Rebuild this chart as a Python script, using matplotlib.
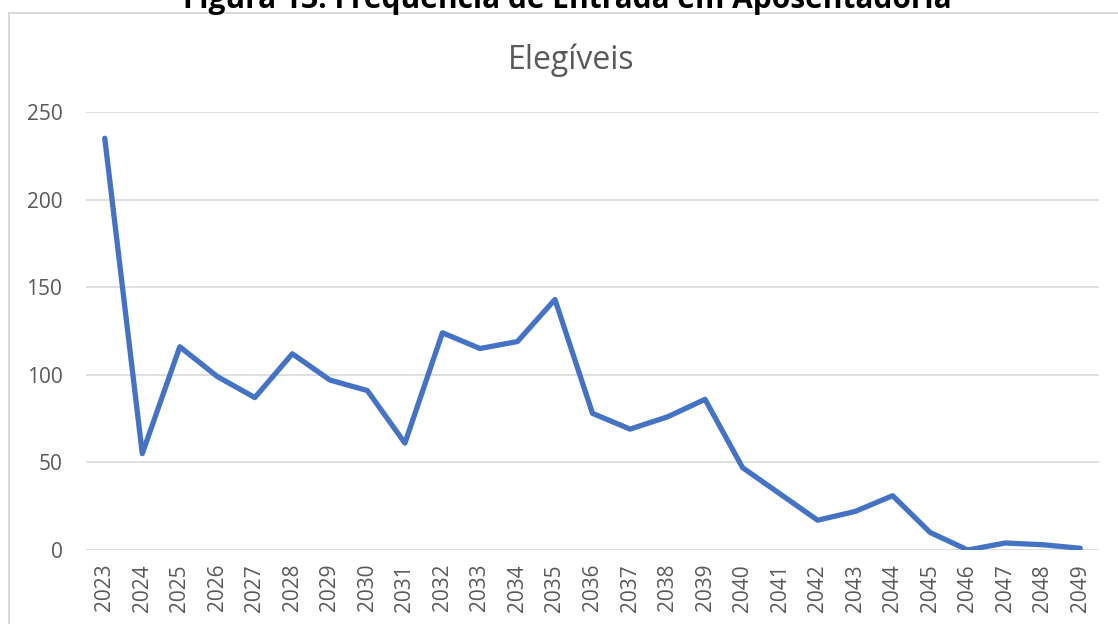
import matplotlib.pyplot as plt
from matplotlib.patches import Rectangle

# dados
anos = [str(a) for a in range(2023, 2050)]
elegiveis = [235, 55, 116, 99, 87, 112, 97, 91, 61, 124, 115, 119, 143,
             78, 69, 76, 86, 47, 32, 17, 22, 31, 10, 0, 4, 3, 1]
y_ticks = [0, 50, 100, 150, 200, 250]

plt.rcParams['font.family'] = ['Open Sans', 'DejaVu Sans']

fig = plt.figure(figsize=(11.18, 6.24), dpi=100)
W, H = 1118, 624

# moldura do grafico (estilo Excel)
fig.patches.append(Rectangle((9 / W, -0.05), 1.2, 1 - 13 / H + 0.05,
                             transform=fig.transFigure, fill=False,
                             edgecolor='#d9d9d9', linewidth=1.5))

# titulo da figura, cortado no topo
fig.text(567 / W, 1 - 8 / H, 'Figura 13: Frequência de Entrada em Aposentadoria',
         ha='center', va='baseline', fontsize=21.5, fontweight='bold', color='black')

fig.text(571 / W, 1 - 60 / H, 'Elegíveis', ha='center', va='center',
         fontsize=23, color='#595959')

ax = fig.add_axes([86 / W, 1 - 550 / H, (1099 - 86) / W, (550 - 112) / H])
x = range(len(anos))
ax.plot(x, elegiveis, color='#4472C4', linewidth=3.8, solid_capstyle='round',
        solid_joinstyle='round')

ax.set_xlim(-0.5, len(anos) - 0.5)
ax.set_ylim(0, 250)
ax.set_yticks(y_ticks)
ax.set_xticks(list(x))
ax.set_xticklabels(anos, rotation=90)
ax.tick_params(axis='both', length=0, labelsize=15, colors='#595959')
ax.tick_params(axis='y', pad=17)
ax.tick_params(axis='x', pad=10)
ax.grid(axis='y', color='#d9d9d9', linewidth=1.2)
ax.set_axisbelow(True)
for s in ax.spines.values():
    s.set_visible(False)

fig.savefig('out.png', dpi=100)
